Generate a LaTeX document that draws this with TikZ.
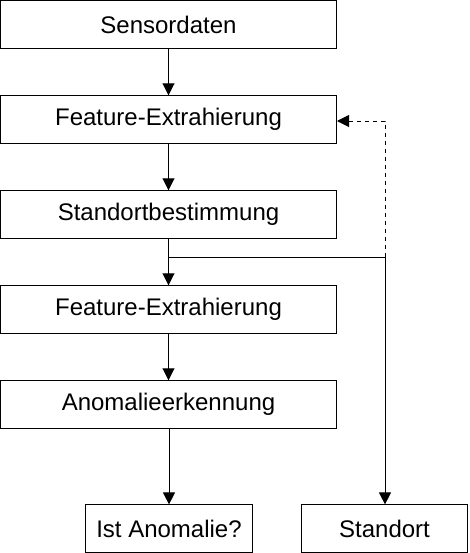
\documentclass[tikz,border=0pt]{standalone}
\usepackage{fontspec}
\setmainfont{Liberation Sans}
\usetikzlibrary{arrows.meta}

\begin{document}
\begin{tikzpicture}[x=0.75pt,y=-0.75pt,line width=0.75pt,
    every node/.style={font=\fontsize{18}{21.6}\selectfont},
    box/.style={draw,rectangle,minimum width=252pt,minimum height=35.6pt,inner sep=0pt},
    smallbox/.style={draw,rectangle,minimum width=125pt,minimum height=35.4pt,inner sep=0pt},
    arr/.style={-{Triangle[length=9pt,width=9pt]}}]
    \useasboundingbox (0,0) rectangle (469,553);
    \node[box] (sens) at (168.5,24.5) {Sensordaten};
    \node[box] (feat1) at (168.5,119.5) {Feature-Extrahierung};
    \node[box] (stand) at (168.5,214.5) {Standortbestimmung};
    \node[box] (feat2) at (168.5,309.5) {Feature-Extrahierung};
    \node[box] (anom) at (168.5,404.5) {Anomalieerkennung};
    \node[smallbox] (ist) at (169,528.5) {Ist Anomalie?};
    \node[smallbox] (ort) at (384.5,528.5) {Standort};
    \coordinate (j) at (385,257);
    \draw[arr] (sens) -- (feat1);
    \draw[arr] (feat1) -- (stand);
    \draw[arr] (stand) -- (feat2);
    \draw[arr] (feat2) -- (anom);
    \draw[arr] (anom.south -| ist) -- (ist);
    \draw (stand.south |- j) -- (j);
    \draw[arr] (j) -- (ort.north -| j);
    \draw[arr,dash pattern=on 3pt off 3pt] (j) |- (feat1.east |- 0,121);
\end{tikzpicture}
\end{document}
